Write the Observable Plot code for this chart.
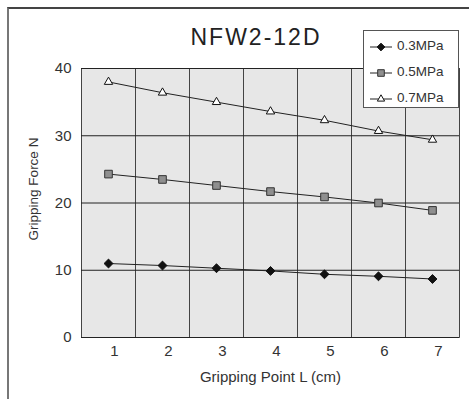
<!DOCTYPE html>
<html>
<head>
<meta charset="utf-8">
<script src="https://cdn.jsdelivr.net/npm/d3@7"></script>
<script src="https://cdn.jsdelivr.net/npm/@observablehq/plot@0.6"></script>
<style>
  html, body { margin: 0; padding: 0; background: #fff; }
  #wrap { position: relative; width: 469px; height: 399px; overflow: hidden; font-family: "Liberation Sans", Arial, sans-serif; }
  #frame { position: absolute; left: 7px; top: 7px; width: 470px; height: 400px; border-left: 2px solid #777; border-top: 2px solid #444; box-sizing: border-box; }
  #title { position: absolute; left: 0; width: 512px; top: 24px; text-align: center; font-size: 23px; color: #222; letter-spacing: 2px; }
  #ytitle { position: absolute; left: 34px; top: 189px; width: 200px; height: 16px; line-height: 16px; margin-left: -100px; margin-top: -8px; text-align: center; font-size: 13.5px; color: #333; transform: rotate(-90deg); white-space: nowrap; }
  #legend { position: absolute; left: 363px; top: 30px; width: 96px; height: 78px; background: #fff; border: 1px solid #555; box-sizing: border-box; }
  .row { position: absolute; left: 0; height: 20px; font-size: 13.5px; color: #333; }
  .row svg { position: absolute; left: 5px; top: 3px; }
  .row span { position: absolute; left: 33px; top: 1px; white-space: nowrap; }
  svg.plot { position: absolute; left: 0; top: 0; }
</style>
</head>
<body>
<div id="wrap">
  <div id="frame"></div>
  <div id="chart"></div>
  <div id="title">NFW2-12D</div>
  <div id="ytitle">Gripping Force N</div>
  <div id="legend"></div>
</div>
<script>
const points = [1, 2, 3, 4, 5, 6, 7];
const seriesNames = ["0.3MPa", "0.5MPa", "0.7MPa"];
const force03 = [11.0, 10.7, 10.3, 9.9, 9.4, 9.1, 8.7];
const force05 = [24.3, 23.5, 22.6, 21.7, 20.9, 20.0, 18.9];
const force07 = [38.0, 36.4, 35.0, 33.6, 32.3, 30.7, 29.4];
const yTicks = [0, 10, 20, 30, 40];

const styles = {
  "0.3MPa": {symbol: "diamond2", fill: "#111", stroke: "#111", r: 4.0},
  "0.5MPa": {symbol: "square", fill: "#8f8f8f", stroke: "#333", r: 4.3},
  "0.7MPa": {symbol: "triangle2", fill: "#fff", stroke: "#111", r: 4.0}
};

const values = [force03, force05, force07];
const data = [];
seriesNames.forEach((s, i) => points.forEach((p, j) => data.push({series: s, x: p, y: values[i][j]})));

const bounds = points.concat([points[points.length - 1] + 1]).map(p => p - 0.5);

const marks = [
  Plot.frame({fill: "#e7e7e7", stroke: "#666", strokeWidth: 1}),
  Plot.ruleX(bounds, {stroke: "#444", strokeWidth: 1}),
  Plot.ruleY(yTicks, {stroke: "#222", strokeWidth: 1}),
];
seriesNames.forEach(s => {
  const d = data.filter(v => v.series === s);
  const st = styles[s];
  marks.push(Plot.line(d, {x: "x", y: "y", stroke: "#222", strokeWidth: 1}));
  marks.push(Plot.dot(d, {x: "x", y: "y", symbol: () => st.symbol, fill: st.fill, stroke: st.stroke, strokeWidth: 1, r: st.r}));
});

const chart = Plot.plot({
  width: 469,
  height: 399,
  marginLeft: 81,
  marginRight: 10,
  marginTop: 68,
  marginBottom: 62,
  style: {fontFamily: "Liberation Sans, Arial, sans-serif", fontSize: "15px", color: "#333", background: "transparent"},
  symbol: {type: "identity"},
  x: {domain: [bounds[0], bounds[bounds.length - 1]], label: null},
  y: {domain: [0, 40], label: null},
  marks: [
    ...marks,
    Plot.axisX({ticks: points, tickSize: 0, tickPadding: 8, fontSize: 15, dx: 6, tickFormat: d => String(d), label: null}),
    Plot.axisY({ticks: yTicks, tickSize: 0, tickPadding: 10, fontSize: 15, label: null}),
    Plot.text(["Gripping Point L (cm)"], {frameAnchor: "bottom", dy: 44, fontSize: 15, fill: "#333"})
  ]
});
document.getElementById("chart").appendChild(chart);

// legend
const legend = document.getElementById("legend");
const symTypes = {diamond2: d3.symbolDiamond2, square: d3.symbolSquare, triangle2: d3.symbolTriangle2};
seriesNames.forEach((s, i) => {
  const st = styles[s];
  const row = document.createElement("div");
  row.className = "row";
  row.style.top = (6 + i * 26) + "px";
  const sym = d3.symbol().type(symTypes[st.symbol]).size(st.r * st.r * Math.PI * 0.75)();
  row.innerHTML = `<svg width="26" height="14"><line x1="1" y1="7" x2="23" y2="7" stroke="#222" stroke-width="1"/><path d="${sym}" transform="translate(12,7)" fill="${st.fill}" stroke="${st.stroke}" stroke-width="1"/></svg><span>${s}</span>`;
  legend.appendChild(row);
});
</script>
</body>
</html>
